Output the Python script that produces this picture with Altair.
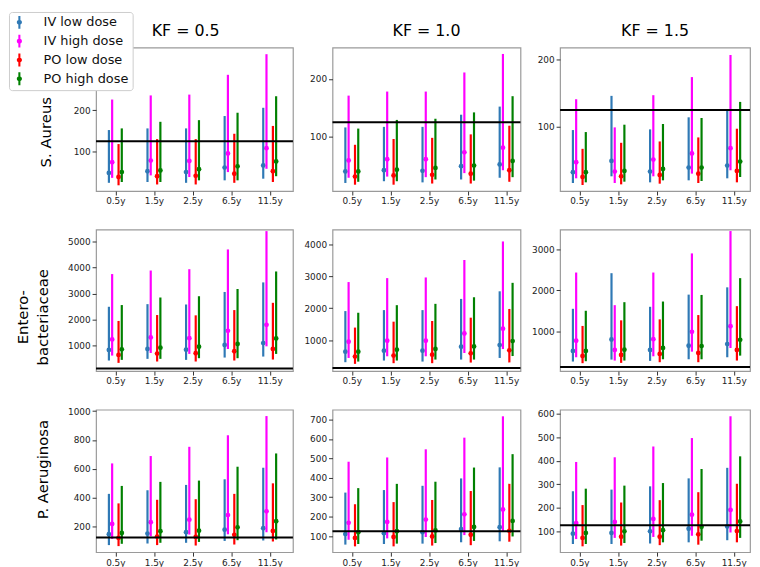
import json
import altair as alt
import pandas as pd

AGES = ["0.5y", "1.5y", "2.5y", "6.5y", "11.5y"]
SERIES = ["IV low dose", "IV high dose", "PO low dose", "PO high dose"]
COLORS = ["#2f79b5", "#ff00ff", "#ff0000", "#008000"]
ORGANISMS = ["S. Aureus", ["Entero-", "bacteriaceae"], "P. Aeruginosa"]
KF_TITLES = ["KF = 0.5", "KF = 1.0", "KF = 1.5"]
THRESHOLD = 125

# rows: IV low, IV high, PO low, PO high ; columns: ages
SA_K05_LO = [[24, 26, 24, 30, 34], [36, 42, 38, 50, 58], [18, 20, 20, 24, 26], [26, 26, 30, 30, 40]]
SA_K05_MED = [[48, 52, 50, 61, 66], [74, 78, 77, 95, 108], [38, 40, 41, 46, 52], [50, 54, 57, 64, 76]]
SA_K05_HI = [[152, 156, 156, 186, 206], [226, 236, 238, 286, 336], [118, 130, 130, 143, 162], [156, 172, 176, 194, 234]]

SA_K10_LO = [[20, 23, 21, 26, 29], [29, 31, 30, 37, 42], [17, 17, 19, 19, 22], [22, 23, 26, 24, 30]]
SA_K10_MED = [[40, 42, 41, 49, 52], [59, 61, 61, 73, 81], [31, 33, 34, 36, 42], [40, 43, 46, 50, 58]]
SA_K10_HI = [[116, 117, 117, 138, 152], [171, 178, 178, 211, 243], [86, 96, 98, 104, 119], [114, 129, 131, 142, 170]]

SA_K15_LO = [[16, 26, 17, 20, 23], [23, 16, 26, 30, 35], [13, 14, 15, 16, 17], [17, 18, 20, 19, 25]]
SA_K15_MED = [[32, 49, 33, 39, 42], [47, 33, 51, 60, 68], [25, 26, 28, 30, 34], [32, 34, 37, 39, 48]]
SA_K15_HI = [[95, 146, 96, 114, 124], [141, 99, 147, 174, 207], [67, 76, 78, 84, 97], [92, 103, 104, 113, 137]]

EB_K05_LO = [[430, 494, 455, 544, 582], [620, 720, 684, 873, 975], [340, 392, 392, 430, 468], [455, 494, 519, 519, 684]]
EB_K05_MED = [[835, 873, 848, 1025, 1101], [1240, 1316, 1290, 1570, 1800], [645, 696, 709, 785, 873], [860, 924, 962, 1063, 1278]]
EB_K05_HI = [[2494, 2595, 2582, 3063, 3430], [3750, 3886, 3937, 4696, 5400], [1950, 2177, 2165, 2367, 2646], [2560, 2850, 2899, 3177, 3850]]

EB_K10_LO = [[306, 358, 326, 389, 440], [440, 492, 492, 596, 720], [254, 275, 275, 295, 300], [326, 358, 389, 389, 500]]
EB_K10_MED = [[637, 668, 668, 793, 845], [948, 979, 979, 1207, 1360], [482, 513, 544, 585, 680], [637, 700, 720, 803, 970]]
EB_K10_HI = [[1912, 1943, 1943, 2295, 2534], [2824, 2948, 2969, 3518, 4100], [1394, 1580, 1601, 1705, 1980], [1860, 2098, 2140, 2347, 2800]]

EB_K15_LO = [[258, 306, 274, 314, 363], [363, 282, 387, 500, 589], [218, 226, 242, 242, 282], [266, 282, 314, 314, 403]]
EB_K15_MED = [[516, 798, 540, 645, 685], [766, 540, 806, 984, 1121], [395, 419, 444, 468, 540], [516, 548, 589, 637, 790]]
EB_K15_HI = [[1548, 2419, 1597, 1895, 2073], [2435, 1637, 2435, 2903, 3450], [1129, 1266, 1290, 1395, 1613], [1500, 1710, 1726, 1887, 2298]]

PA_K05_LO = [[72, 83, 88, 101, 104], [115, 133, 145, 147, 161], [65, 72, 69, 76, 97], [81, 88, 94, 106, 111]]
PA_K05_MED = [[147, 152, 161, 179, 189], [218, 230, 248, 280, 306], [122, 131, 129, 143, 170], [156, 168, 172, 195, 237]]
PA_K05_HI = [[427, 452, 489, 528, 608], [638, 689, 753, 833, 966], [361, 386, 390, 427, 500], [482, 510, 519, 615, 707]]

PA_K10_LO = [[56, 59, 61, 68, 73], [81, 88, 95, 105, 125], [47, 47, 51, 53, 71], [59, 61, 64, 75, 98]]
PA_K10_MED = [[110, 115, 120, 136, 146], [168, 173, 185, 212, 237], [90, 95, 98, 107, 127], [120, 125, 129, 147, 178]]
PA_K10_HI = [[324, 337, 359, 397, 454], [483, 505, 547, 607, 717], [264, 275, 286, 332, 369], [347, 369, 380, 453, 522]]

PA_K15_LO = [[45, 45, 47, 52, 61], [66, 71, 75, 80, 94], [35, 38, 40, 42, 52], [45, 49, 52, 59, 71]]
PA_K15_MED = [[89, 92, 99, 110, 120], [134, 139, 152, 170, 190], [71, 76, 76, 86, 100], [92, 99, 104, 118, 141]]
PA_K15_HI = [[270, 277, 291, 325, 370], [395, 415, 461, 497, 590], [211, 222, 232, 266, 302], [281, 294, 305, 365, 419]]

Y_DOMAINS = [
    [[4, 352], [6, 254], [4, 218]],
    [[23, 5456], [26, 4471], [24, 3484]],
    [[23, 1010], [17, 751], [10, 618]],
]
Y_TICKS = [
    [[100, 200, 300], [100, 200], [100, 200]],
    [[1000, 2000, 3000, 4000, 5000], [1000, 2000, 3000, 4000], [1000, 2000, 3000]],
    [[200, 400, 600, 800, 1000], [100, 200, 300, 400, 500, 600, 700], [100, 200, 300, 400, 500, 600]],
]

PANELS = {
    (0, 0): (SA_K05_LO, SA_K05_MED, SA_K05_HI),
    (0, 1): (SA_K10_LO, SA_K10_MED, SA_K10_HI),
    (0, 2): (SA_K15_LO, SA_K15_MED, SA_K15_HI),
    (1, 0): (EB_K05_LO, EB_K05_MED, EB_K05_HI),
    (1, 1): (EB_K10_LO, EB_K10_MED, EB_K10_HI),
    (1, 2): (EB_K15_LO, EB_K15_MED, EB_K15_HI),
    (2, 0): (PA_K05_LO, PA_K05_MED, PA_K05_HI),
    (2, 1): (PA_K10_LO, PA_K10_MED, PA_K10_HI),
    (2, 2): (PA_K15_LO, PA_K15_MED, PA_K15_HI),
}

records = []
for (r, c), (lo, med, hi) in PANELS.items():
    for s in range(len(SERIES)):
        for a in range(len(AGES)):
            records.append({"org": r, "kf": c, "s": s, "series": SERIES[s], "a": a + 1,
                            "lo": lo[s][a], "med": med[s][a], "hi": hi[s][a]})
df = pd.DataFrame(records)
thr_df = pd.DataFrame({"t": [THRESHOLD]})

# layout / style
WIDTHS = [199, 190, 192]
HEIGHTS = [145, 143, 144]
PX_PER_UNIT = 39
DODGE = "[-0.167,-0.083,0.083,0.167]"
FONT = "DejaVu Sans"
TITLE_POS = [(-46, 85), (-69, 88), (-49, 60)]

label_expr = json.dumps(AGES) + "[datum.value - 1]"
SYMBOL = ("M-0.16,-1L0.16,-1L0.16,1L-0.16,1Z"
          "M0.4,0A0.4,0.4,0,1,1,-0.4,0A0.4,0.4,0,1,1,0.4,0Z")

color = alt.Color("series:N", scale=alt.Scale(domain=SERIES, range=COLORS), title=None)


def panel(r, c):
    w, h = WIDTHS[c], HEIGHTS[r]
    xdom = [0.5, 0.5 + w / PX_PER_UNIT]
    if c == 0:
        tx, ty = TITLE_POS[r]
        yaxis = alt.Axis(values=Y_TICKS[r][c], format="d", titleX=tx, titleY=ty,
                         titleAngle=270, titleBaseline="alphabetic", titleFont=FONT,
                         titleFontSize=15, titleFontWeight="normal", titleColor="black",
                         titleLineHeight=20)
        ytitle = ORGANISMS[r]
    else:
        yaxis = alt.Axis(values=Y_TICKS[r][c], format="d")
        ytitle = ""
    yscale = alt.Scale(domain=Y_DOMAINS[r][c], nice=False, zero=False)
    x = alt.X("xp:Q", scale=alt.Scale(domain=xdom, nice=False, zero=False),
              axis=alt.Axis(values=[1, 2, 3, 4, 5], labelExpr=label_expr), title="")
    base = (alt.Chart(df)
            .transform_filter(f"datum.org == {r} && datum.kf == {c}")
            .transform_calculate(xp=f"datum.a + {DODGE}[datum.s]"))
    pts = base.mark_point(filled=True, size=24, opacity=1).encode(
        x=x, y=alt.Y("med:Q", scale=yscale, axis=yaxis, title=ytitle), color=color)
    bars = base.mark_rule(strokeWidth=2.2).encode(
        x=x, y=alt.Y("hi:Q", scale=yscale, axis=yaxis, title=ytitle), y2="lo:Q", color=color)
    thr = alt.Chart(thr_df).mark_rule(color="black", strokeWidth=2).encode(
        y=alt.Y("t:Q", scale=yscale, axis=yaxis, title=ytitle))
    layer = alt.layer(pts, bars, thr).properties(width=w, height=h)
    if r == 0:
        layer = layer.properties(title=alt.TitleParams(
            KF_TITLES[c], font=FONT, fontSize=16, fontWeight="normal", color="black",
            offset=-7, baseline="bottom", anchor="middle", dx=-9 if c == 0 else 0))
    return layer


charts = [panel(r, c) for r in range(3) for c in range(3)]

chart = (alt.concat(*charts, columns=3, spacing=alt.RowColnumber(row=39, column=40), bounds="flush")
         .properties(padding=0)
         .configure_view(stroke="#9a9a9a", strokeWidth=1.2)
         .configure_axis(domain=False, grid=False, tickColor="#333333", tickSize=4,
                         labelFont=FONT, labelFontSize=9, labelColor="#222222", labelPadding=2)
         .configure_legend(orient="none", legendX=-88, legendY=-36, fillColor="white",
                           strokeColor="#cccccc", cornerRadius=3, padding=4,
                           labelFont=FONT, labelFontSize=13, labelColor="#111111",
                           symbolType=SYMBOL, symbolSize=169, symbolStrokeWidth=0,
                           labelOffset=18, rowPadding=5))

chart.save("out.html", embed_options={"renderer": "svg", "actions": False})
